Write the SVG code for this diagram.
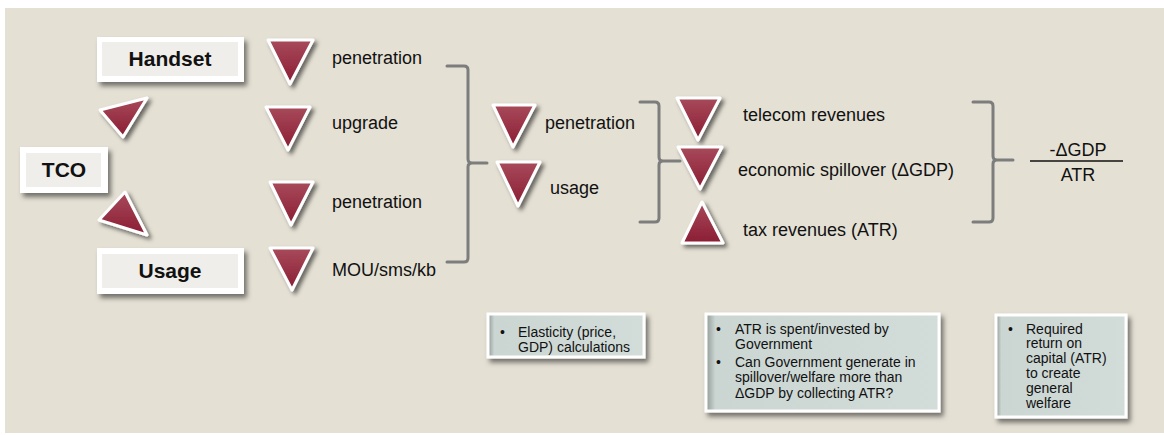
<svg xmlns="http://www.w3.org/2000/svg" width="1164" height="435" viewBox="0 0 1164 435">
  <defs>
    <linearGradient id="tri" x1="0" y1="0" x2="0" y2="1">
      <stop offset="0" stop-color="#a84a5b"/>
      <stop offset="1" stop-color="#8a1d33"/>
    </linearGradient>
    <linearGradient id="note" x1="0" y1="0" x2="1" y2="0">
      <stop offset="0" stop-color="#8f9a97"/>
      <stop offset="0.04" stop-color="#cbd6d3"/>
      <stop offset="1" stop-color="#d2dcd9"/>
    </linearGradient>
    <filter id="shadow" x="-20%" y="-20%" width="150%" height="150%">
      <feDropShadow dx="3" dy="3" stdDeviation="2" flood-color="#000" flood-opacity="0.55"/>
    </filter>
    <filter id="boxshadow" x="-10%" y="-20%" width="130%" height="150%">
      <feDropShadow dx="3" dy="4" stdDeviation="2.5" flood-color="#000" flood-opacity="0.5"/>
    </filter>
  </defs>
  <style>
    .tri { fill: url(#tri); stroke: #ffffff; stroke-width: 3; stroke-linejoin: round; filter: url(#shadow); }
    .boxo { fill: #ffffff; filter: url(#boxshadow); }
    .boxi { fill: #efeeea; }
    .lbl { font-family: "Liberation Sans", Arial, sans-serif; font-weight: bold; font-size: 21px; fill: #111; text-anchor: middle; }
    .txt { font-family: "Liberation Sans", Arial, sans-serif; font-size: 18px; fill: #111; }
    .frac { font-family: "Liberation Sans", Arial, sans-serif; font-size: 18px; fill: #111; text-anchor: middle; }
    .brk { fill: none; stroke: #7d7d7d; stroke-width: 3; stroke-linecap: round; stroke-linejoin: round; }
    .notebox { fill: url(#note); stroke: #ffffff; stroke-width: 3; filter: url(#boxshadow); }
    .note { font-family: "Liberation Sans", Arial, sans-serif; font-size: 14px; fill: #111; }
  </style>

  <!-- canvas -->
  <rect x="0" y="0" width="1164" height="435" fill="#ffffff"/>
  <rect x="5" y="8" width="1159" height="425" fill="#e4e0d4"/>

  <!-- connectors: brackets and fraction bar -->
  <g id="connectors">
    <path class="brk" d="M447,66 H464 Q468,66 468,70 V159 Q468,163 472,163 H487 M472,163 Q468,163 468,167 V258 Q468,262 464,262 H447"/>
    <path class="brk" d="M640,102 H655 Q659,102 659,106 V157 Q659,161 663,161 H680 M663,161 Q659,161 659,165 V218 Q659,222 655,222 H640"/>
    <path class="brk" d="M973,102 H989 Q993,102 993,106 V156 Q993,160 997,160 H1013 M997,160 Q993,160 993,164 V218 Q993,222 989,222 H973"/>
    <line x1="1030" y1="161" x2="1123" y2="161" stroke="#111" stroke-width="1.5"/>
  </g>

  <!-- left column -->
  <g id="handset">
    <rect class="boxo" x="97" y="37" width="147" height="45"/>
    <rect class="boxi" x="102" y="42" width="136" height="34"/>
    <text class="lbl" x="170" y="66">Handset</text>
  </g>
  <g id="tco">
    <rect class="boxo" x="20" y="147" width="88" height="46"/>
    <rect class="boxi" x="26" y="153" width="75" height="34"/>
    <text class="lbl" x="64" y="177">TCO</text>
  </g>
  <g id="usage">
    <rect class="boxo" x="97" y="248" width="147" height="46"/>
    <rect class="boxi" x="102" y="254" width="136" height="34"/>
    <text class="lbl" x="170" y="278">Usage</text>
  </g>
  <g id="arrow-handset">
    <polygon class="tri" points="100,110 147,98 123,137"/>
  </g>
  <g id="arrow-usage">
    <polygon class="tri" points="99,220 125,192 147,235"/>
  </g>

  <!-- drivers -->
  <g id="handset-penetration">
    <polygon class="tri" points="268,40 313,40 290,84"/>
    <text class="txt" x="332" y="64">penetration</text>
  </g>
  <g id="handset-upgrade">
    <polygon class="tri" points="266,107 310,107 288,150"/>
    <text class="txt" x="332" y="129">upgrade</text>
  </g>
  <g id="usage-penetration">
    <polygon class="tri" points="270,182 313,182 291,225"/>
    <text class="txt" x="332" y="208">penetration</text>
  </g>
  <g id="usage-mou">
    <polygon class="tri" points="270,248 313,248 292,290"/>
    <text class="txt" x="332" y="276">MOU/sms/kb</text>
  </g>

  <!-- aggregate effects -->
  <g id="penetration">
    <polygon class="tri" points="493,105 535,105 513,147"/>
    <text class="txt" x="545" y="129">penetration</text>
  </g>
  <g id="usage-total">
    <polygon class="tri" points="497,162 540,162 518,206"/>
    <text class="txt" x="550" y="194">usage</text>
  </g>

  <!-- outcomes -->
  <g id="telecom-revenues">
    <polygon class="tri" points="677,98 720,98 698,140"/>
    <text class="txt" x="743" y="121">telecom revenues</text>
  </g>
  <g id="spillover">
    <polygon class="tri" points="678,147 722,147 700,189"/>
    <text class="txt" x="738" y="176">economic spillover (ΔGDP)</text>
  </g>
  <g id="tax-revenues">
    <polygon class="tri" points="702,202 723,243 682,243"/>
    <text class="txt" x="743" y="236">tax revenues (ATR)</text>
  </g>

  <!-- ratio -->
  <g id="ratio">
    <text class="frac" x="1078" y="156">-ΔGDP</text>
    <text class="frac" x="1078" y="181">ATR</text>
  </g>

  <!-- notes -->
  <g id="note-elasticity">
    <rect class="notebox" x="488" y="314" width="156" height="43"/>
    <text class="note" x="500" y="337">•</text>
    <text class="note" x="518" y="337">Elasticity (price,</text>
    <text class="note" x="518" y="352">GDP) calculations</text>
  </g>
  <g id="note-atr">
    <rect class="notebox" x="706" y="314" width="233" height="97"/>
    <text class="note" x="716" y="334">•</text>
    <text class="note" x="735" y="334">ATR is spent/invested by</text>
    <text class="note" x="735" y="349">Government</text>
    <text class="note" x="716" y="367">•</text>
    <text class="note" x="735" y="367">Can Government generate in</text>
    <text class="note" x="735" y="382">spillover/welfare more than</text>
    <text class="note" x="735" y="398">ΔGDP by collecting ATR?</text>
  </g>
  <g id="note-return">
    <rect class="notebox" x="996" y="315" width="130" height="102"/>
    <text class="note" x="1008" y="334">•</text>
    <text class="note" x="1026" y="334">Required</text>
    <text class="note" x="1026" y="348">return on</text>
    <text class="note" x="1026" y="363">capital (ATR)</text>
    <text class="note" x="1026" y="378">to create</text>
    <text class="note" x="1026" y="393">general</text>
    <text class="note" x="1026" y="408">welfare</text>
  </g>
</svg>
